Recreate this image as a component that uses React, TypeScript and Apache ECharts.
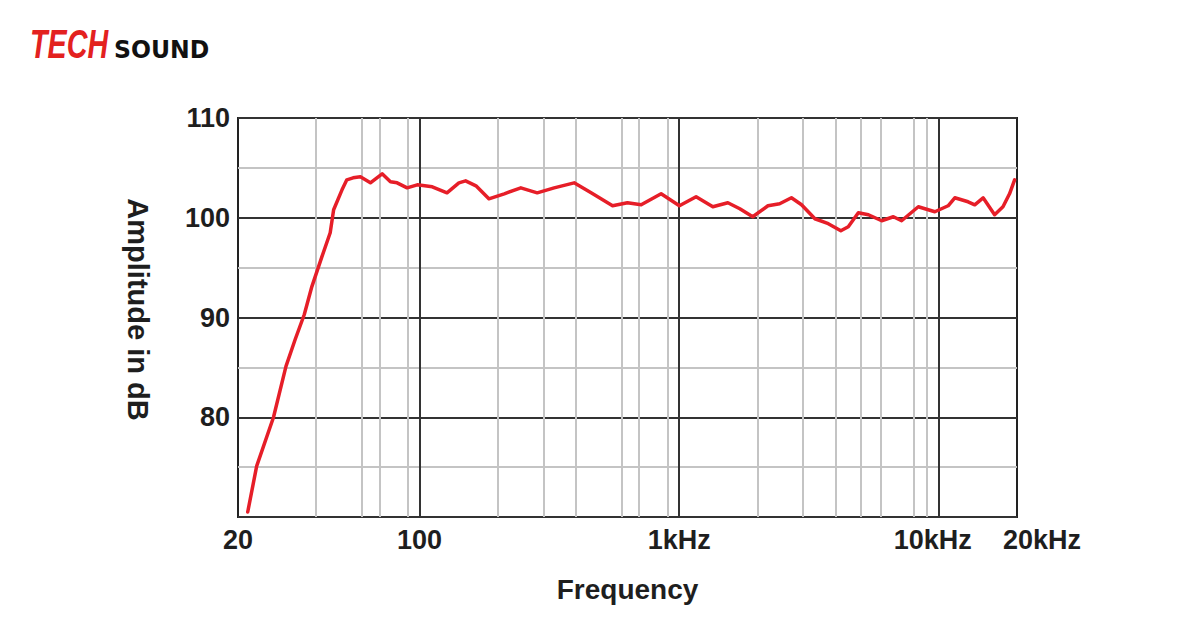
import React, { useEffect, useRef } from "react";
import * as echarts from "echarts";

// Frequency response
const freqHz = [
  21.8, 23.6, 27.4, 30.6, 33.2, 36, 38.5, 42.1, 45.3, 46.7, 50.3, 52.5, 55.5, 59.2, 64.7, 71.8,
  77.3, 82, 89.6, 98, 112, 127.6, 141.8, 150.5, 165, 185, 212, 245.6, 284, 330, 394, 458, 554,
  632, 714, 852, 1002, 1162, 1348, 1540, 1712, 1920, 2198, 2438, 2706, 2960, 3332, 3752, 4194,
  4480, 4898, 5356, 6024, 6682, 7188, 8336, 9656, 10860, 11520, 12960, 13750, 14810, 16400,
  17660, 18720, 19580,
];
const ampDb = [
  70.5, 75.1, 80.0, 85.1, 87.8, 90.3, 93.1, 96.1, 98.5, 100.8, 102.8, 103.8, 104.0, 104.1, 103.5,
  104.4, 103.6, 103.5, 103.0, 103.3, 103.1, 102.5, 103.5, 103.7, 103.2, 101.9, 102.4, 103.0, 102.5,
  103.0, 103.5, 102.5, 101.2, 101.5, 101.3, 102.4, 101.2, 102.1, 101.1, 101.5, 100.9, 100.1, 101.2,
  101.4, 102.0, 101.3, 99.9, 99.4, 98.7, 99.1, 100.5, 100.3, 99.7, 100.1, 99.7, 101.1, 100.6,
  101.2, 102.0, 101.6, 101.3, 102.0, 100.3, 101.1, 102.4, 103.8,
];

const xTickValues = [20, 100, 1000, 10000, 20000];
const xTickLabels = ["20", "100", "1kHz", "10kHz", "20kHz"];
const xTickStyles = ["c", "c", "c", "l", "r"];
const yTickValues = [80, 90, 100, 110];
const majorFreqLines = [100, 1000, 10000];
const minorFreqLines = [40, 60, 70, 90, 200, 300, 400, 600, 700, 900, 2000, 3000, 4000, 5000, 6000, 8000, 9000];

const FONT = "'Liberation Sans', Arial, sans-serif";
const TEXT = "#1e1e1e";
const DARK = "#333333";
const LIGHT = "#c4c4c4";

export default function App() {
  const ref = useRef<HTMLDivElement>(null);
  useEffect(() => {
    if (!ref.current) return;
    const chart = echarts.init(ref.current, undefined, { renderer: "svg" });
    const fmtX = (v: number) => {
      const i = xTickValues.findIndex((t) => Math.abs(Math.log10(v) - Math.log10(t)) < 0.01);
      return i >= 0 ? `{${xTickStyles[i]}|${xTickLabels[i]}}` : "";
    };
    const tickText = { fontSize: 27, fontWeight: "bold", fontFamily: FONT, color: TEXT };
    chart.setOption({
      animation: false,
      backgroundColor: "#ffffff",
      graphic: [
        {
          type: "text",
          x: 30,
          y: 23,
          scaleX: 0.7,
          style: {
            text: "TECH",
            fill: "#e3211f",
            font: "italic bold 41px 'Liberation Sans', sans-serif",
            verticalAlign: "top",
          },
        },
        {
          type: "text",
          x: 114,
          y: 38,
          scaleX: 0.98,
          style: {
            text: "SOUND",
            fill: "#111111",
            font: "bold 24px 'DejaVu Sans', sans-serif",
            verticalAlign: "top",
          },
        },
      ],
      grid: {
        left: 238,
        right: 183,
        top: 118,
        bottom: 113,
        show: true,
        borderColor: "#222222",
        borderWidth: 2,
        containLabel: false,
      },
      xAxis: {
        type: "log",
        logBase: 10,
        min: 20,
        max: 20000,
        axisLine: { show: false },
        axisTick: { show: false },
        splitLine: { show: false },
        axisLabel: {
          customValues: xTickValues,
          formatter: fmtX,
          ...tickText,
          margin: 9,
          showMinLabel: true,
          showMaxLabel: true,
          rich: {
            c: { ...tickText },
            l: { ...tickText, padding: [0, 12, 0, 0] },
            r: { ...tickText, padding: [0, 0, 0, 50] },
          },
        },
        name: "Frequency",
        nameLocation: "middle",
        nameGap: 58,
        nameTextStyle: { fontSize: 28, fontWeight: "bold", fontFamily: FONT, color: TEXT },
      },
      yAxis: {
        type: "value",
        min: 70,
        max: 110,
        interval: 10,
        axisLine: { show: false },
        axisTick: { show: false },
        splitLine: { show: true, lineStyle: { color: DARK, width: 2 } },
        minorTick: { show: false, splitNumber: 2 },
        minorSplitLine: { show: true, lineStyle: { color: LIGHT, width: 2 } },
        axisLabel: {
          customValues: yTickValues,
          ...tickText,
          margin: 8,
        },
        name: "Amplitude in dB",
        nameLocation: "middle",
        nameRotate: -90,
        nameGap: 86,
        nameTextStyle: {
          fontSize: 29,
          fontWeight: "bold",
          fontFamily: FONT,
          color: TEXT,
          padding: [0, 16, 0, 0],
        },
      },
      series: [
        {
          type: "line",
          data: [],
          z: 2,
          silent: true,
          markLine: {
            silent: true,
            symbol: ["none", "none"],
            label: { show: false },
            animation: false,
            data: [
              ...minorFreqLines.map((v) => ({ xAxis: v, lineStyle: { color: LIGHT, width: 2, type: "solid" } })),
              ...majorFreqLines.map((v) => ({ xAxis: v, lineStyle: { color: DARK, width: 2, type: "solid" } })),
            ],
          },
        },
        {
          type: "line",
          z: 5,
          silent: true,
          showSymbol: false,
          data: freqHz.map((f, i) => [f, ampDb[i]]),
          lineStyle: { color: "#e61e28", width: 3.5, join: "round", cap: "round" },
        },
      ],
    });
    return () => chart.dispose();
  }, []);
  return (
    <div
      ref={ref}
      style={{ position: "fixed", left: 0, top: 0, width: 1200, height: 630, background: "#fff" }}
    />
  );
}
